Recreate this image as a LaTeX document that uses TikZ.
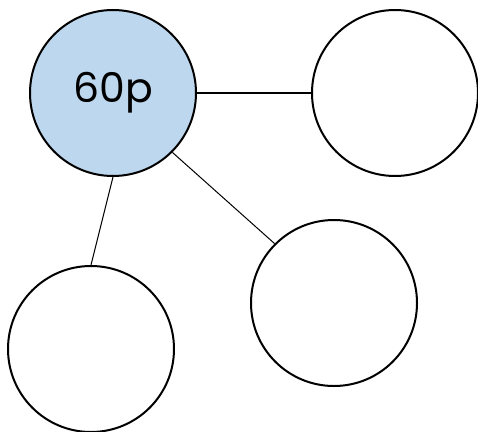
\documentclass[tikz,border=0pt]{standalone}
\usepackage{fontspec}
\setmainfont{Poppins}
\definecolor{lightblue}{RGB}{189,215,238}
\begin{document}
\begin{tikzpicture}[x=1pt,y=-1pt,
  ball/.style={circle,draw,line width=2pt,minimum size=166pt,inner sep=0pt,fill=white}]
%\draw[step=50,gray,very thin] (0,0) grid (478,431);
\useasboundingbox (0,0) rectangle (478,431);
\node[ball,fill=lightblue] (top) at (113,93) {\fontsize{41}{41}\selectfont 60p};
\node[ball] (right) at (395,93) {};
\node[ball] (mid) at (334,303) {};
\node[ball] (low) at (91,349) {};
\draw[line width=1.1pt] (top.east) -- (right.west);
\draw[line width=1pt] (top.south east) -- (mid.north west);
\draw[line width=1pt] (top.south) -- (low.north);
\end{tikzpicture}
\end{document}
